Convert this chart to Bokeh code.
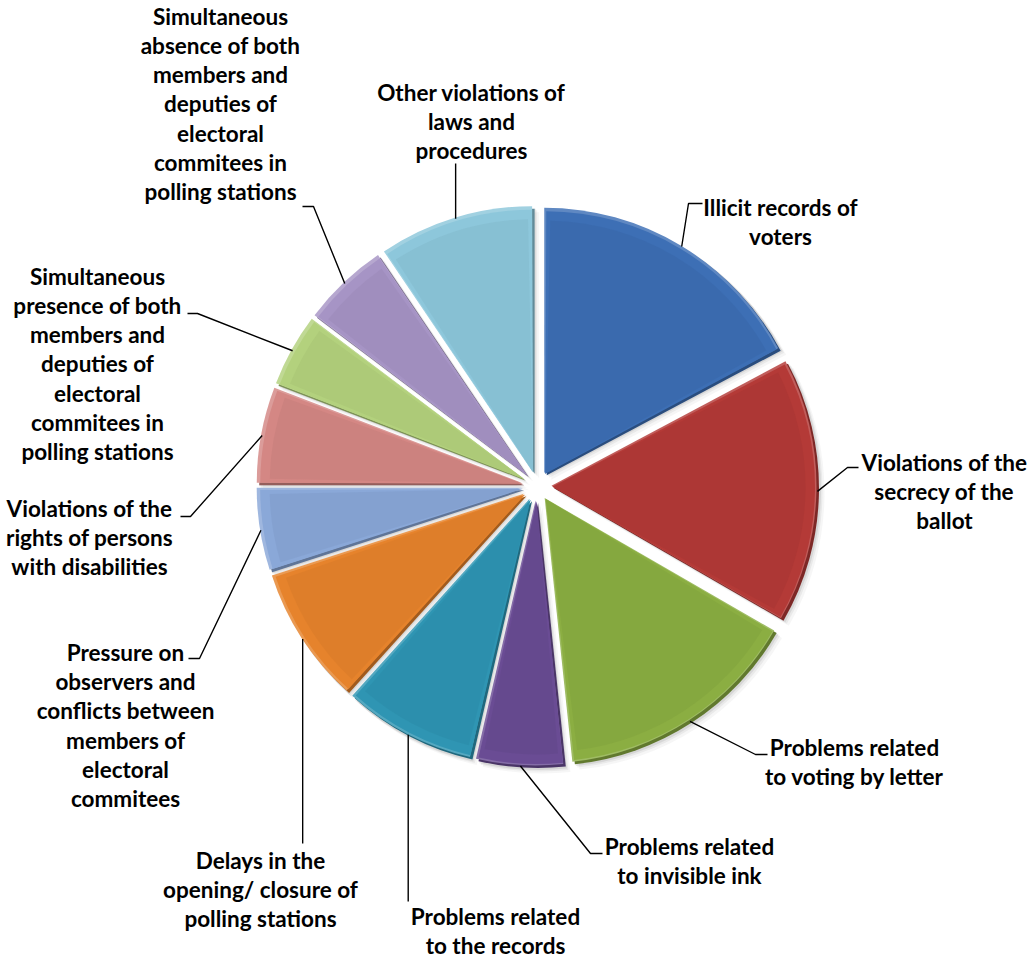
import numpy as np
from bokeh.plotting import figure
from bokeh.models import ColumnDataSource, Range1d
from bokeh.core.properties import value
from bokeh.embed import file_html
from bokeh.resources import INLINE

# ---------------- data ----------------
categories = [
    "Illicit records of voters",
    "Violations of the secrecy of the ballot",
    "Problems related to voting by letter",
    "Problems related to invisible ink",
    "Problems related to the records",
    "Delays in the opening/ closure of polling stations",
    "Pressure on observers and conflicts between members of electoral commitees",
    "Violations of the rights of persons with disabilities",
    "Simultaneous presence of both members and deputies of electoral commitees in polling stations",
    "Simultaneous absence of both members and deputies of electoral commitees in polling stations",
    "Other violations of laws and procedures",
]
values = [62, 58, 54, 19, 29, 30, 18, 21, 16, 19, 34]
label_text = [
    "Illicit records of\nvoters",
    "Violations of the\nsecrecy of the\nballot",
    "Problems related\nto voting by letter",
    "Problems related\nto invisible ink",
    "Problems related\nto the records",
    "Delays in the\nopening/ closure of\npolling stations",
    "Pressure on\nobservers and\nconflicts between\nmembers of\nelectoral\ncommitees",
    "Violations of the\nrights of persons\nwith disabilities",
    "Simultaneous\npresence of both\nmembers and\ndeputies of\nelectoral\ncommitees in\npolling stations",
    "Simultaneous\nabsence of both\nmembers and\ndeputies of\nelectoral\ncommitees in\npolling stations",
    "Other violations of\nlaws and\nprocedures",
]
colors = ["#3D6FB5", "#B43A37", "#8BAE42", "#6A4C94", "#2F95B3", "#E6832C",
          "#8AA8D8", "#D48784", "#B3D17D", "#A694C5", "#8DC7DB"]

# ---------------- layout (screen pixels, y downwards) ----------------
W, H = 1034, 960
CX, CY = 537, H - 486
R = 265
EXPLODE = 15
LINE_SP = 28.8
FONT_PX = 22.5
label_pos = [(780, 207), (944, 462), (854, 747), (689, 846), (495, 916), (260, 860),
             (125, 653), (89, 508), (97, 277), (220, 17), (471, 92)]
leader_knee = [(688, 203), (847, 467), (755, 754), (590, 853), (None, 901), (None, 843),
               (199, 658), (190, 516), (197, 313), (313, 206), (None, 163)]
leader_tail = [702, 858, 767, 602, None, None, 188, 180, 187, 302, None]


def shade(hexc, f):
    h = hexc.lstrip("#")
    r, g, b = (int(h[i:i + 2], 16) for i in (0, 2, 4))
    if f >= 0:
        r, g, b = (int(c + (255 - c) * f) for c in (r, g, b))
    else:
        r, g, b = (int(c * (1 + f)) for c in (r, g, b))
    return "#%02x%02x%02x" % (r, g, b)


vals = np.array(values, dtype=float)
frac = vals / vals.sum()
cum_end = np.cumsum(frac)
cum_start = cum_end - frac
start = np.pi / 2 - 2 * np.pi * cum_end
end = np.pi / 2 - 2 * np.pi * cum_start
mid = (start + end) / 2
sx = CX + EXPLODE * np.cos(mid)
sy = CY + EXPLODE * np.sin(mid)
ax = sx + R * np.cos(mid)
ay = sy + R * np.sin(mid)

p = figure(width=W, height=H, x_range=Range1d(0, W), y_range=Range1d(0, H),
           output_backend="svg", toolbar_location=None, min_border=0)
p.axis.visible = False
p.grid.visible = False
p.outline_line_color = None
p.background_fill_color = "white"
p.border_fill_color = "white"

# soft shadow
for off, alpha in [(6, 0.05), (4, 0.08), (2.5, 0.12)]:
    src = ColumnDataSource(dict(x=sx + off, y=sy - off, start=start, end=end))
    p.wedge(x="x", y="y", radius=R + 1, start_angle="start", end_angle="end",
            source=src, fill_color="#555555", fill_alpha=alpha, line_color=None)

# bevel: dark lower-right rim, light upper-left rim
src_dark = ColumnDataSource(dict(x=sx + 1.5, y=sy - 1.5, start=start, end=end,
                                 c=[shade(c, -0.3) for c in colors]))
p.wedge(x="x", y="y", radius=R, start_angle="start", end_angle="end",
        source=src_dark, fill_color="c", line_color=None)
src_light = ColumnDataSource(dict(x=sx - 1.0, y=sy + 1.0, start=start, end=end,
                                  c=[shade(c, 0.18) for c in colors]))
p.wedge(x="x", y="y", radius=R, start_angle="start", end_angle="end",
        source=src_light, fill_color="c", line_color=None)
src_main = ColumnDataSource(dict(x=sx, y=sy, start=start + 0.004, end=end - 0.004,
                                 c=colors, name=categories, v=values))
p.wedge(x="x", y="y", radius=R - 2.5, start_angle="start", end_angle="end",
        source=src_main, fill_color="c", line_color=None)
# subtle darker inner body for depth
src_in = ColumnDataSource(dict(x=sx, y=sy, start=start + 0.02, end=end - 0.02,
                               c=[shade(c, -0.06) for c in colors]))
p.wedge(x="x", y="y", radius=R - 12, start_angle="start", end_angle="end",
        source=src_in, fill_color="c", fill_alpha=0.6, line_color=None)

# leader lines
xs, ys = [], []
for i in range(len(values)):
    kx, ky = leader_knee[i]
    lx = [ax[i]]
    ly = [ay[i]]
    if kx is None:
        lx.append(ax[i])
        ly.append(H - ky)
    else:
        lx += [kx, leader_tail[i]]
        ly += [H - ky, H - ky]
    xs.append(lx)
    ys.append(ly)
p.multi_line(xs=xs, ys=ys, line_color="black", line_width=1.4)

# labels
tx, ty = [], []
for (x, y1), t in zip(label_pos, label_text):
    n = t.count("\n") + 1
    tx.append(x)
    ty.append(H - (y1 + (n - 1) * LINE_SP / 2))
p.text(x=tx, y=ty, text=label_text, text_align="center", text_baseline="middle",
       text_font=value("Lato"), text_font_style="bold", text_font_size=f"{FONT_PX}px",
       text_line_height=LINE_SP / (FONT_PX * 1.18), text_color="black")

open("out.html", "w").write(file_html(p, INLINE))
